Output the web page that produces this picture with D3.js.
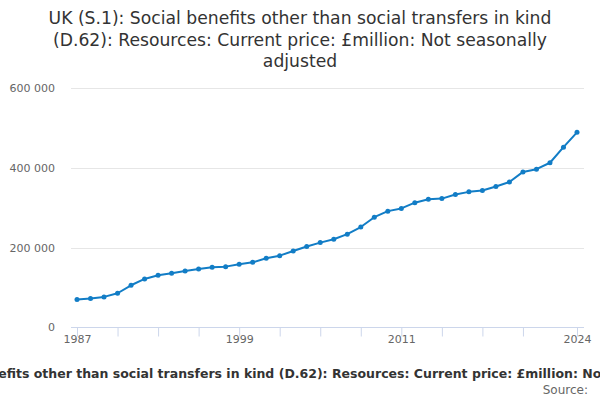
<!DOCTYPE html>
<html>
<head>
<meta charset="utf-8">
<script src="https://cdn.jsdelivr.net/npm/d3@7"></script>
<style>
html,body{margin:0;padding:0;background:#fff;}
svg{display:block;font-family:"DejaVu Sans",sans-serif;}
</style>
</head>
<body>
<svg id="chart" width="600" height="400"></svg>
<script>
const titleLines = ["UK (S.1): Social benefits other than social transfers in kind",
  "(D.62): Resources: Current price: £million: Not seasonally",
  "adjusted"];
const captionText = "UK (S.1): Social benefits other than social transfers in kind (D.62): Resources: Current price: £million: Not seasonally adjusted";
const sourceText = "Source:";
const years = [1987,1988,1989,1990,1991,1992,1993,1994,1995,1996,1997,1998,1999,2000,2001,2002,2003,2004,2005,2006,2007,2008,2009,2010,2011,2012,2013,2014,2015,2016,2017,2018,2019,2020,2021,2022,2023,2024];
const values = [70000,72500,76700,85800,105800,121700,130800,135800,141700,146700,150800,152500,158300,163300,173300,180000,191700,203000,212700,221200,233900,251700,276300,291500,298300,312700,321200,322900,333100,339800,343200,353400,364400,389800,396600,412700,451700,489000];
const yTicks = [0,200000,400000,600000];
const xTickYears = [1987,1990,1993,1996,1999,2002,2005,2008,2011,2014,2017,2020,2024];
const xLabelYears = [1987,1999,2011,2024];

const svg = d3.select("#chart");
const x = d3.scaleLinear().domain([1987,2024]).range([77,577]);
const y = d3.scaleLinear().domain([0,600000]).range([327.5,88]);
const plotLeft = 71, plotRight = 584;

// title
svg.append("text").attr("x",300).attr("y",18).attr("text-anchor","middle")
  .attr("font-size",17.2).attr("fill","#333")
  .selectAll("tspan").data(titleLines).join("tspan")
  .attr("x",300).attr("dy",(d,i)=>i===0?"0.35em":"21.5px").text(d=>d);

// gridlines
svg.append("g").selectAll("line").data(yTicks.filter(d=>d>0)).join("line")
  .attr("x1",plotLeft).attr("x2",plotRight)
  .attr("y1",d=>Math.round(y(d))+0.5).attr("y2",d=>Math.round(y(d))+0.5)
  .attr("stroke","#e6e6e6").attr("stroke-width",1);

// y labels
const fmt = d => d3.format(",")(d).replace(/,/g," ");
svg.append("g").selectAll("text").data(yTicks).join("text")
  .attr("x",55).attr("y",d=>y(d)).attr("dy","0.35em").attr("text-anchor","end")
  .attr("font-size",11).attr("fill","#666").text(fmt);

// x axis
const xAxis = d3.axisBottom(x).tickValues(xTickYears).tickSize(9)
  .tickFormat(d => xLabelYears.includes(d) ? String(d) : "");
const gx = svg.append("g").attr("transform","translate(0,327.5)").call(xAxis);
gx.select(".domain").remove();
gx.append("line").attr("x1",plotLeft).attr("x2",plotRight).attr("stroke","#ccd6eb");
gx.selectAll(".tick line").attr("stroke","#ccd6eb");
gx.selectAll(".tick text").attr("fill","#666").attr("font-size",11)
  .attr("font-family","DejaVu Sans, sans-serif").attr("y",8);

// line
const data = years.map((yr,i)=>({yr, v: values[i]}));
svg.append("path").datum(data)
  .attr("fill","none").attr("stroke","#127dc6").attr("stroke-width",2)
  .attr("stroke-linejoin","round")
  .attr("d", d3.line().x(d=>x(d.yr)).y(d=>y(d.v)));
svg.append("g").selectAll("circle").data(data).join("circle")
  .attr("cx",d=>x(d.yr)).attr("cy",d=>y(d.v)).attr("r",2.5).attr("fill","#127dc6");

// caption
svg.append("text").attr("x",305).attr("y",378).attr("text-anchor","middle")
  .attr("font-size",12.5).attr("font-weight","bold").attr("fill","#333").text(captionText);
svg.append("text").attr("x",588).attr("y",394).attr("text-anchor","end")
  .attr("font-size",12).attr("fill","#666").text(sourceText);
</script>
</body>
</html>
